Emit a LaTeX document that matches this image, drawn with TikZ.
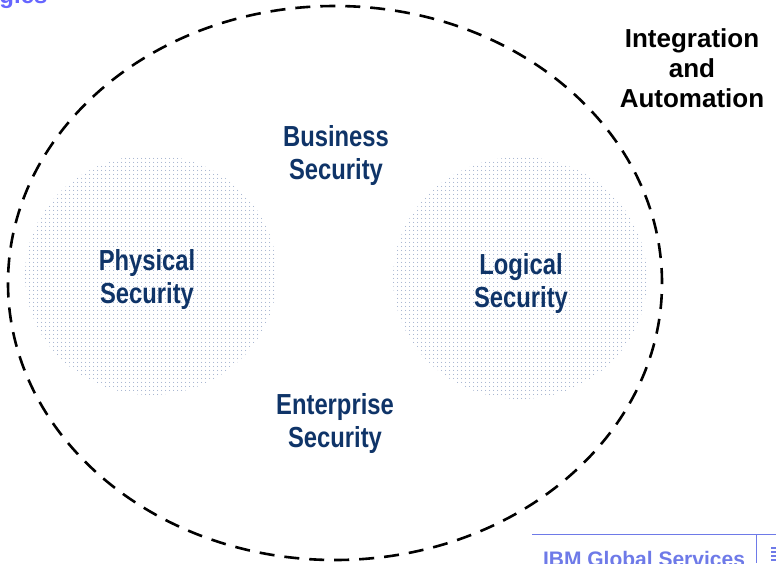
\documentclass[tikz,border=0pt]{standalone}
\usepackage{fontspec}
\setmainfont{Liberation Sans}
\newfontfamily\narrowfont[FakeStretch=0.82]{Liberation Sans}
\usetikzlibrary{patterns}

\definecolor{navy}{RGB}{15,52,104}
\definecolor{dotblue}{RGB}{105,130,175}
\definecolor{ibmblue}{RGB}{110,122,232}
\definecolor{titleblue}{RGB}{102,102,255}

\pgfdeclarepatternformonly{softdots}{\pgforigin}{\pgfpoint{4pt}{4pt}}{\pgfpoint{4pt}{4pt}}{%
	\pgfpathcircle{\pgfpoint{2pt}{2pt}}{0.55pt}\pgfusepath{fill}}

\begin{document}
\begin{tikzpicture}[x=1pt,y=-1pt,
	seclabel/.style={text=navy, align=center, font=\narrowfont\bfseries\fontsize{29}{33}\selectfont},
	sidelabel/.style={align=center, font=\bfseries\fontsize{26}{30}\selectfont},
	zone/.style={pattern=softdots, pattern color=dotblue}]
	\useasboundingbox (0,0) rectangle (776,563);

	% Bereiche
	\fill[zone] (151,275) ellipse [x radius=126pt, y radius=120pt];
	\fill[zone] (520,278) ellipse [x radius=127pt, y radius=121pt];
	\draw[line width=2.6pt, dash pattern=on 15pt off 10pt] (335,283) ellipse [x radius=327pt, y radius=277pt];

	\node[seclabel] (business) at (336,155) {Business\\Security};
	\node[seclabel] (physical) at (147,279) {Physical\\Security};
	\node[seclabel] (logical) at (521,283) {Logical\\Security};
	\node[seclabel] (enterprise) at (335,423) {Enterprise\\Security};
	\node[sidelabel] (integration) at (692,68) {Integration\\and\\Automation};

	% Kopf und Fuss
	\node[text=titleblue, font=\bfseries\fontsize{24}{28}\selectfont, anchor=base east] (title) at (51,3) {gies};
	\draw[ibmblue, line width=1pt] (532,534) -- (776,534);
	\draw[ibmblue, line width=1pt] (756,534) -- (756,563);
	\node[text=ibmblue, font=\bfseries\fontsize{21}{25}\selectfont, anchor=base] (footer) at (644,566) {IBM Global Services};
	\foreach \y in {547,551,555,559} {
	     \fill[ibmblue] (771,\y) rectangle (776,\y+1.6);
	}
\end{tikzpicture}
\end{document}
